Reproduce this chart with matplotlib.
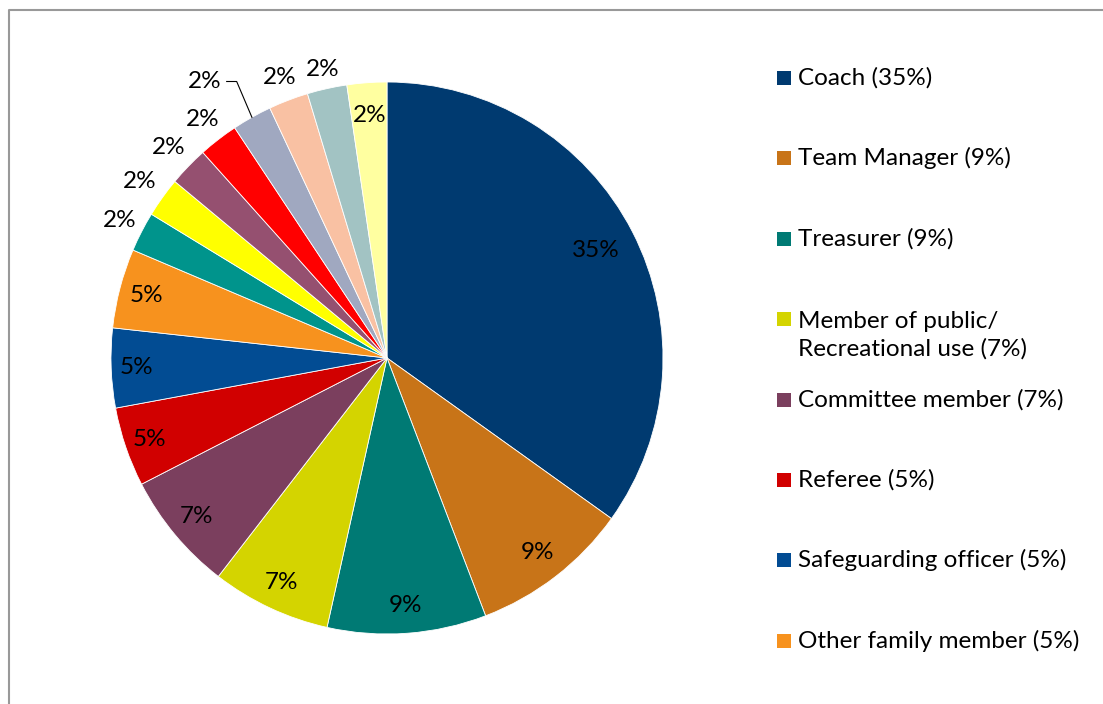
import matplotlib.pyplot as plt
from matplotlib.patches import Rectangle
import numpy as np

# respondent roles (legend shows only the first eight)
categories = ["Coach", "Team Manager", "Treasurer", "Member of public/\nRecreational use",
              "Committee member", "Referee", "Safeguarding officer", "Other family member"]
counts = [15, 4, 4, 3, 3, 2, 2, 2, 1, 1, 1, 1, 1, 1, 1, 1]
colors = ["#003A70", "#C87418", "#007A74", "#D4D400", "#7B3F5E", "#D10000", "#024C93", "#F7921E",
          "#00948C", "#FFFF00", "#955070", "#FF0000", "#A0A8C0", "#F9C1A3", "#A2C3C3", "#FFFFA0"]

# radial position of each percentage label (fraction of radius)
label_r = [0.85, 0.89, 0.9, 0.9, 0.9, 0.91, 0.91, 0.9,
           1.09, 1.1, 1.1, 1.09, 1.2, 1.09, 1.07, 0.88]

W, H = 1103, 704
FONT = "Lato"
FS = 17.5


def main():
    total = sum(counts)
    pcts = [round(100 * c / total) for c in counts]

    fig = plt.figure(figsize=(W / 100, H / 100), dpi=100)
    ax = fig.add_axes([0, 0, 1, 1])

    cx, cy, rad = 387, H - 358, 276
    wedges, _ = ax.pie(counts, colors=colors, startangle=90, counterclock=False,
                       center=(cx, cy), radius=rad, frame=True,
                       wedgeprops=dict(edgecolor="white", linewidth=0.6))
    ax.set_xlim(0, W)
    ax.set_ylim(0, H)
    ax.axis("off")

    for i, w in enumerate(wedges):
        th = np.deg2rad((w.theta1 + w.theta2) / 2)
        r = rad * label_r[i]
        x, y = cx + r * np.cos(th), cy + r * np.sin(th)
        if i == 12:
            # moved label with leader line
            th2 = np.deg2rad(123.4)
            x, y = cx + rad * 1.2 * np.cos(th2), cy + rad * 1.2 * np.sin(th2)
            ex, ey = cx + rad * np.cos(th), cy + rad * np.sin(th)
            ax.plot([x + 22, x + 32, ex], [y, y, ey], color="black", lw=0.8)
        ax.text(x, y, f"{pcts[i]}%", ha="center", va="center",
                fontsize=FS, family=FONT, color="black")

    # legend
    for i, name in enumerate(categories):
        py = 78 + 80.4 * i
        ax.add_patch(Rectangle((777, H - py - 7), 14, 14, color=colors[i], lw=0))
        ax.text(798, H - py - 16 * name.count("\n"), f"{name} ({pcts[i]}%)",
                ha="left", va="center", fontsize=FS, family=FONT, linespacing=1.3)

    # chart border
    ax.plot([8.5, 8.5, W], [0, H - 10, H - 10], color="#999999", lw=1.5, clip_on=False)

    fig.savefig("out.png", dpi=100)


if __name__ == "__main__":
    main()
